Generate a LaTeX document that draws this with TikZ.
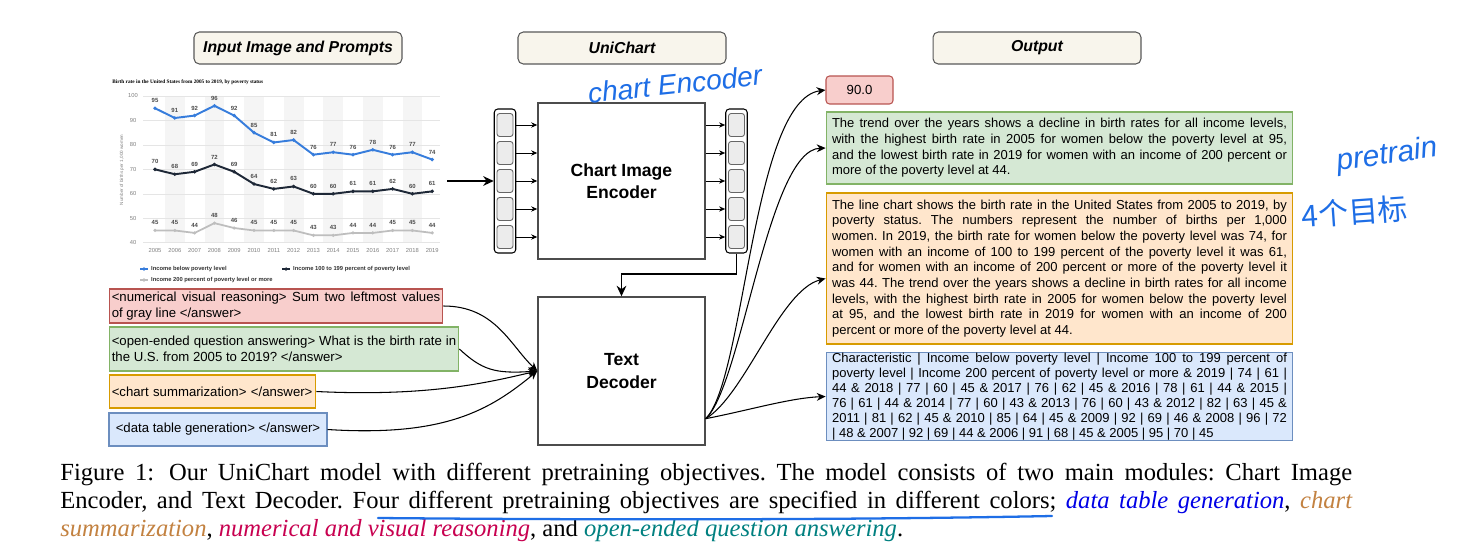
\documentclass[tikz,border=0pt]{standalone}
\usepackage{fontspec}
\setmainfont{LiberationSerif}[Extension=.ttf, UprightFont=*-Regular, ItalicFont=*-Italic,
  BoldFont=*-Bold, BoldItalicFont=*-BoldItalic]
\setsansfont{Liberation Sans}
\newfontfamily\cjkfont{Noto Sans CJK SC}
\usetikzlibrary{arrows.meta, positioning, calc}
\definecolor{headfill}{RGB}{248, 245, 236}
\definecolor{redfill}{RGB}{248, 206, 204}
\definecolor{reddraw}{RGB}{184, 84, 80}
\definecolor{greenfill}{RGB}{213, 232, 212}
\definecolor{greendraw}{RGB}{130, 179, 102}
\definecolor{orangefill}{RGB}{255, 230, 204}
\definecolor{orangedraw}{RGB}{215, 155, 0}
\definecolor{bluefill}{RGB}{218, 232, 252}
\definecolor{bluedraw}{RGB}{108, 142, 191}
\definecolor{tokfill}{RGB}{236, 236, 236}
\definecolor{handblue}{RGB}{30, 110, 230}
\definecolor{chartblue}{RGB}{55, 125, 220}
\definecolor{chartdark}{RGB}{30, 40, 55}
\definecolor{chartgray}{RGB}{190, 190, 190}
\definecolor{capblue}{RGB}{0, 0, 230}
\definecolor{caporange}{RGB}{195, 130, 65}
\definecolor{capred}{RGB}{200, 0, 80}
\definecolor{capteal}{RGB}{0, 128, 128}
\hyphenpenalty=10000
\exhyphenpenalty=10000
\frenchspacing
\def\bluedata{95,91,92,96,92,85,81,82,76,77,76,78,76,77,74}
\def\darkdata{70,68,69,72,69,64,62,63,60,60,61,61,62,60,61}
\def\graydata{45,45,44,48,46,45,45,45,43,43,44,44,45,45,44}

\begin{document}
\begin{tikzpicture}[x=0.02cm, y=-0.02cm,
  head/.style={rectangle, rounded corners=3pt, draw=black!65, fill=headfill, line width=0.6pt,
    minimum width=4.16cm, minimum height=0.64cm, font=\sffamily\bfseries\itshape\fontsize{9}{10}\selectfont},
  module/.style={rectangle, draw=black!70, line width=0.8pt, fill=white, minimum width=3.34cm,
    align=center, font=\sffamily\bfseries\fontsize{10}{12.6}\selectfont},
  tokcol/.style={rectangle, rounded corners=2pt, draw=black, line width=0.6pt, fill=white,
    minimum width=0.43cm, minimum height=2.88cm},
  token/.style={rectangle, rounded corners=1.5pt, draw=black!60, fill=tokfill, line width=0.5pt,
    minimum width=0.32cm, minimum height=0.46cm, inner sep=0pt},
  prompt/.style={rectangle, line width=0.6pt, inner xsep=1.5pt, inner ysep=0pt, align=justify,
    font=\sffamily\fontsize{7.5}{9.1}\selectfont},
  answer/.style={rectangle, line width=0.6pt, text width=9.1cm, inner xsep=3.4pt, inner ysep=0pt,
    align=justify, font=\sffamily\fontsize{7.4}{8.9}\selectfont},
  tok/.style={-{Stealth[length=3.5pt, width=3pt]}, line width=0.5pt},
  feed/.style={-{Stealth[length=5pt, width=4.5pt]}, line width=0.6pt},
  flow/.style={-{Stealth[length=6pt, width=5.5pt]}, line width=1.1pt},
  hand/.style={text=handblue, font=\sffamily\itshape\fontsize{16}{16}\selectfont},
  vlab/.style={anchor=south, yshift=2.6pt, inner sep=0.3pt, text=black!70, font=\sffamily\bfseries\fontsize{3.4}{4}\selectfont},
  axlab/.style={inner sep=0pt, text=black!50, font=\sffamily\fontsize{3.3}{4}\selectfont},
  leg/.style={anchor=west, inner sep=0.5pt, text=black!80, font=\sffamily\bfseries\fontsize{3.3}{4}\selectfont}
]
\fill[white] (0,0) rectangle (1461,548);
\useasboundingbox (0,0) rectangle (1461,548);

% Header boxes
\node[head] (hin) at (298,48) {Input Image and Prompts};
\node[head] (huni) at (622,48) {UniChart};
\node[head] (hout) at (1037,48) {Output};

% Input chart
\node[inner sep=0pt, anchor=west, font=\rmfamily\bfseries\fontsize{3}{4}\selectfont] (ctitle) at (112,82.7)
  {Birth rate in the United States from 2005 to 2019, by poverty status};
\foreach \i in {1,3,...,13}
  \fill[black!4] ({155+19.8*\i-9.9},96) rectangle ({155+19.8*\i+9.9},243);
\foreach \g in {40,50,...,100} {
  \draw[black!10, line width=0.3pt] (143,{96+(100-\g)*2.445}) -- (440,{96+(100-\g)*2.445});
  \node[axlab] (yl\g) at (133,{96+(100-\g)*2.445}) {\g};
}
\foreach \i in {0,...,14} {
  \pgfmathtruncatemacro\yr{2005+\i}
  \node[axlab] (yr\i) at ({155+19.8*\i},250) {\yr};
}
\node[axlab, rotate=90, font=\sffamily\fontsize{2.6}{3}\selectfont] (ytitle) at (122,170) {Number of births per 1,000 women};
\foreach \v [count=\i from 0] in \bluedata {
  \coordinate (b\i) at ({155+19.8*\i},{96+(100-\v)*2.445});
  \node[vlab] (bv\i) at (b\i) {\v};
}
\foreach \v [count=\i from 0] in \darkdata {
  \coordinate (d\i) at ({155+19.8*\i},{96+(100-\v)*2.445});
  \node[vlab] (dv\i) at (d\i) {\v};
}
\foreach \v [count=\i from 0] in \graydata {
  \coordinate (g\i) at ({155+19.8*\i},{96+(100-\v)*2.445});
  \node[vlab] (gv\i) at (g\i) {\v};
}
\draw[chartgray, line width=1pt] (g0) \foreach \i in {1,...,14} {-- (g\i)};
\draw[chartdark, line width=1.1pt] (d0) \foreach \i in {1,...,14} {-- (d\i)};
\draw[chartblue, line width=1.1pt] (b0) \foreach \i in {1,...,14} {-- (b\i)};
\foreach \i in {0,...,14} {
  \fill[chartgray] (g\i) circle (1pt);
  \fill[chartdark] (d\i) circle (1.1pt);
  \fill[chartblue] (b\i) circle (1.1pt);
}
% legend
\draw[chartblue, line width=0.9pt] (140,269) -- (148,269);
\fill[chartblue] (144,269) circle (1pt);
\node[leg] (lg1) at (150,269) {Income below poverty level};
\draw[chartdark, line width=0.9pt] (282,269) -- (290,269);
\fill[chartdark] (286,269) circle (1pt);
\node[leg] (lg2) at (292,269) {Income 100 to 199 percent of poverty level};
\draw[chartgray, line width=0.9pt] (140,280) -- (148,280);
\fill[chartgray] (144,280) circle (1pt);
\node[leg] (lg3) at (150,280) {Income 200 percent of poverty level or more};
\draw[reddraw!70!black, line width=0.4pt] (110,288) -- (432,288);

% Chart Image Encoder
\node[module, minimum height=3.12cm] (enc) at (621.5,181) {Chart Image\\Encoder};
\node[tokcol] (lcol) at (505,181) {};
\node[tokcol] (rcol) at (736.5,181) {};
\foreach \k/\ty in {1/125, 2/153, 3/181, 4/209, 5/237} {
  \node[token] (lt\k) at (505,\ty) {};
  \node[token] (rt\k) at (736.5,\ty) {};
  \draw[tok] (lcol.east |- lt\k) -- (enc.west |- lt\k);
  \draw[tok] (enc.east |- rt\k) -- (rcol.west |- rt\k);
}
\coordinate (chartout) at (447,181);
\draw[flow] (chartout) -- (lcol.west);

% Text Decoder
\node[module, minimum height=2.96cm] (dec) at (621.5,371) {Text\\Decoder};
\coordinate (turn) at (621.5,274);
\draw[flow] (rcol.south) |- (turn) -- (dec.north);

% Prompts
\node[prompt, fill=redfill, draw=reddraw, text width=6.57cm, minimum height=0.68cm] (pnum) at (276,306)
  {<numerical visual reasoning> Sum two leftmost values\linebreak of gray line </answer>};
\node[prompt, fill=greenfill, draw=greendraw, text width=6.89cm, minimum height=0.88cm] (pqa) at (284,349)
  {<open-ended question answering> What is the birth rate in\linebreak the U.S. from 2005 to 2019? </answer>};
\node[prompt, fill=orangefill, draw=orangedraw, text width=4.03cm, align=left, minimum height=0.66cm] (psum) at (212.5,391.5)
  {<chart summarization> </answer>};
\node[prompt, fill=bluefill, draw=bluedraw, align=center, minimum width=4.36cm, minimum height=0.66cm] (pdt) at (218,429.5)
  {<data table generation> </answer>};
\draw[feed] (pnum.east) .. controls (495,306) and (510,345) .. (dec.west);
\draw[feed] (pqa.east) .. controls (482,370) and (495,374) .. (dec.west);
\draw[feed] (psum.east) .. controls (430,397) and (490,382) .. (dec.west);
\draw[feed] (pdt.east) .. controls (445,437) and (490,410) .. (dec.west);

% Outputs
\node[rectangle, rounded corners=2pt, fill=redfill, draw=reddraw, line width=0.6pt, minimum width=1.34cm,
  minimum height=0.56cm, font=\sffamily\fontsize{7.5}{9}\selectfont] (o90) at (859.5,90) {90.0};
\node[answer, fill=greenfill, draw=greendraw, minimum height=1.44cm] (oqa) at (1059.5,148)
  {The trend over the years shows a decline in birth rates for all income levels,\linebreak
   with the highest birth rate in 2005 for women below the poverty level at 95,\linebreak
   and the lowest birth rate in 2019 for women with an income of 200 percent or\linebreak
   more of the poverty level at 44.};
\node[answer, fill=orangefill, draw=orangedraw, minimum height=3.02cm] (osum) at (1059.5,268.5)
  {The line chart shows the birth rate in the United States from 2005 to 2019, by\linebreak
   poverty status. The numbers represent the number of births per 1,000\linebreak
   women. In 2019, the birth rate for women below the poverty level was 74, for\linebreak
   women with an income of 100 to 199 percent of the poverty level it was 61,\linebreak
   and for women with an income of 200 percent or more of the poverty level it\linebreak
   was 44. The trend over the years shows a decline in birth rates for all income\linebreak
   levels, with the highest birth rate in 2005 for women below the poverty level\linebreak
   at 95, and the lowest birth rate in 2019 for women with an income of 200\linebreak
   percent or more of the poverty level at 44.};
\node[answer, fill=bluefill, draw=bluedraw, minimum height=1.7cm, font=\sffamily\fontsize{7.4}{8.6}\selectfont] (odt) at (1059.5,396.5)
  {Characteristic | Income below poverty level | Income 100 to 199 percent of\linebreak
   poverty level | Income 200 percent of poverty level or more \& 2019 | 74 | 61 |\linebreak
   44 \& 2018 | 77 | 60 | 45 \& 2017 | 76 | 62 | 45 \& 2016 | 78 | 61 | 44 \& 2015 |\linebreak
   76 | 61 | 44 \& 2014 | 77 | 60 | 43 \& 2013 | 76 | 60 | 43 \& 2012 | 82 | 63 | 45 \&\linebreak
   2011 | 81 | 62 | 45 \& 2010 | 85 | 64 | 45 \& 2009 | 92 | 69 | 46 \& 2008 | 96 | 72\linebreak
   | 48 \& 2007 | 92 | 69 | 44 \& 2006 | 91 | 68 | 45 \& 2005 | 95 | 70 | 45};
\coordinate (dout) at ($(dec.south east)+(0,-27)$);
\draw[feed] (dout) .. controls (745,380) and (752,100) .. (o90.west);
\draw[feed] (dout) .. controls (742,385) and (768,150) .. (oqa.west);
\draw[feed] (dout) .. controls (745,395) and (780,290) .. ($(osum.west)+(0,10)$);
\draw[feed] (dout) .. controls (750,410) and (790,398) .. (odt.west);

% Handwritten notes
\node[hand, rotate=6] (note1) at (675,84) {chart Encoder};
\node[hand, rotate=8, font=\sffamily\itshape\fontsize{17}{17}\selectfont] (note2) at (1387,156) {pretrain};
\node[hand, rotate=4, font=\cjkfont\fontsize{17}{17}\selectfont] (note3) at (1355,212) {4个目标};

% Caption
\node[anchor=north west, text width=25.84cm, align=justify, inner sep=0pt, font=\rmfamily\fontsize{14}{15.9}\selectfont] (cap) at (60,463)
  {Figure 1:\hspace{0.6em}Our UniChart model with different pretraining objectives. The model consists of two main modules: Chart Image\linebreak
   Encoder, and Text Decoder. Four different pretraining objectives are specified in different colors; {\color{capblue}\itshape data table generation}, {\color{caporange}\itshape chart}\linebreak
   {\color{caporange}\itshape summarization}, {\color{capred}\itshape numerical and visual reasoning}, and {\color{capteal}\itshape open-ended question answering}.};
\coordinate (ul1) at (378,518);
\coordinate (ul2) at (1052,516);
\draw[handblue, line width=1.3pt, line cap=round] (ul1) .. controls (600,520) and (850,520) .. (ul2);
\end{tikzpicture}
\end{document}
